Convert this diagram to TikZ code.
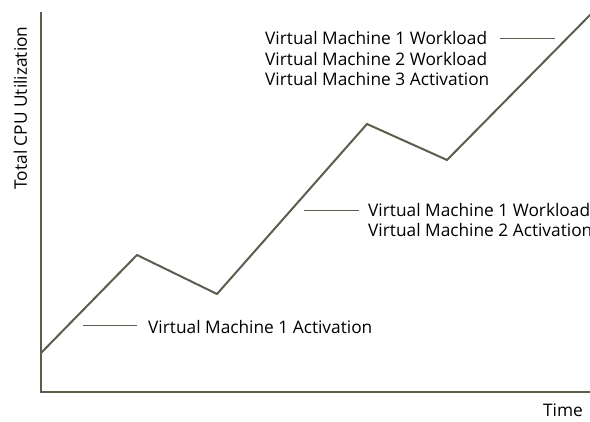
\documentclass[tikz,border=0pt]{standalone}
\usepackage{fontspec}
\setmainfont{Open Sans}
\definecolor{axis}{HTML}{5E5C4C}
\begin{document}
\begin{tikzpicture}[x=1pt,y=-1pt,
  plotline/.style={draw=axis,line width=2pt,line join=miter},
  leader/.style={draw=axis,line width=0.9pt},
  lbl/.style={font=\fontsize{17.3}{20.7}\selectfont,inner sep=0pt,anchor=base west,align=left,text=black}]
\useasboundingbox (0,0) rectangle (590,422);
% axes
\coordinate (ytop) at (41,12);
\coordinate (orig) at (41,392.5);
\coordinate (xend) at (590,392.5);
\draw[plotline] (ytop) -- (orig) -- (xend);
% data
\coordinate (p0) at (41,353);
\coordinate (p1) at (137,255);
\coordinate (p2) at (217,294);
\coordinate (p3) at (367,124);
\coordinate (p4) at (447,160);
\coordinate (p5) at (591,14);
\draw[plotline] (p0) -- (p1) -- (p2) -- (p3) -- (p4) -- (p5);
% labels
\node[lbl] (l1) at (148,334) {Virtual Machine 1 Activation};
\node[lbl] (l2) at (368,237) {Virtual Machine 1 Workload\\Virtual Machine 2 Activation};
\node[lbl] (l3) at (265,86) {Virtual Machine 1 Workload\\Virtual Machine 2 Workload\\Virtual Machine 3 Activation};
\coordinate (c1) at (83,325);
\coordinate (c2) at (304,210.5);
\coordinate (c3) at (555,38.5);
\draw[leader] (c1) -- (137,325);
\draw[leader] (c2) -- (359,210.5);
\draw[leader] (c3) -- (500,38.5);
\node[lbl,anchor=base,rotate=90] (ylab) at (27,108) {Total CPU Utilization};
\node[lbl,anchor=base east] (xlab) at (583,417) {Time};
\end{tikzpicture}
\end{document}
